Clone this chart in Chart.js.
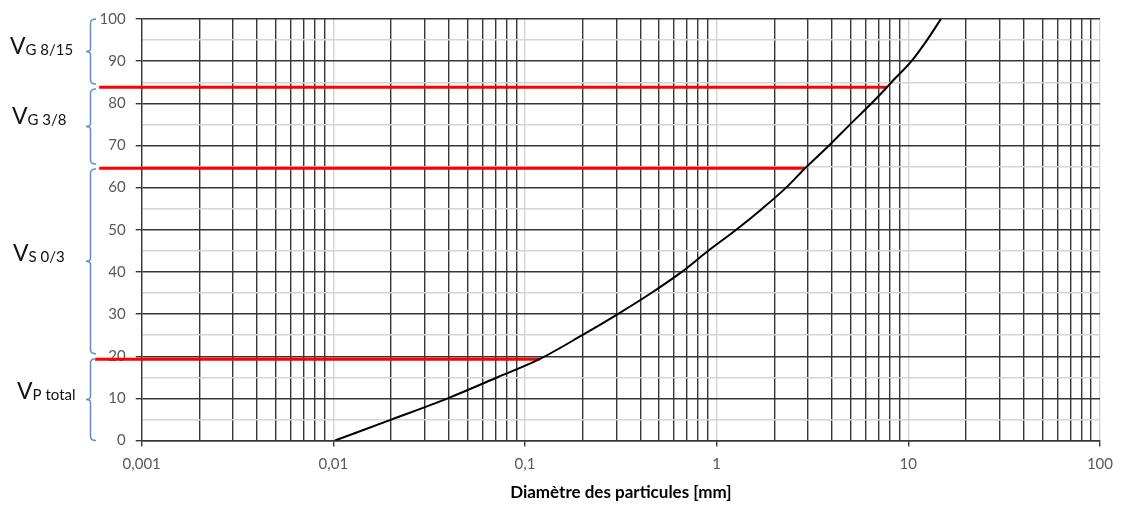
<!DOCTYPE html>
<html>
<head>
<meta charset="utf-8">
<script src="https://cdn.jsdelivr.net/npm/chart.js@4.4.1/dist/chart.umd.min.js"></script>
<style>
  html, body { margin: 0; padding: 0; background: #ffffff; }
  #wrap { width: 1122px; height: 506px; }
</style>
</head>
<body>
<div id="wrap"><canvas id="c" width="1122" height="506"></canvas></div>
<script>
// ---- data ----
const sieveSizes = [0.0102, 0.0202, 0.0395, 0.0719, 0.119, 0.199, 0.305, 0.456, 0.658, 0.904, 1.265, 1.728, 2.305, 2.895, 3.86, 4.97, 6.43, 7.74, 8.17, 10.39, 12.52, 14.8];
const passing    = [0, 5, 10, 15, 19.3, 25, 30, 35, 40, 45, 50, 55, 60, 64.6, 70, 75, 80, 83.8, 85, 90, 95, 100];

const cutValues     = [83.8, 64.6, 19.3];
const cutStartSizes = [0.0006, 0.0006, 0.00057];
const cutEndSizes   = [7.74, 2.88, 0.119];

const decades      = [0.001, 0.01, 0.1, 1, 10, 100];
const decadeLabels = ['0,001', '0,01', '0,1', '1', '10', '100'];
const minorMultipliers = [2, 3, 4, 5, 6, 7, 8, 9];

const yTickValues = [0, 5, 10, 15, 20, 25, 30, 35, 40, 45, 50, 55, 60, 65, 70, 75, 80, 85, 90, 95, 100];

const fractionRanges = [[100, 84], [84, 65], [65, 20], [20, 0]];
const fractionMain   = ['V', 'V', 'V', 'V'];
const fractionSub    = ['G 8/15', 'G 3/8', 'S 0/3', 'P total'];

const xTitle = 'Diamètre des particules [mm]';

// ---- build ----
const xGridValues = [];
decades.forEach((d, i) => {
  xGridValues.push(d);
  if (i < decades.length - 1) minorMultipliers.forEach(m => xGridValues.push(Number((d * m).toPrecision(3))));
});
function decadeIndex(v) {
  return decades.findIndex(d => Math.abs(v - d) / d < 1e-6);
}

const DARK = '#363636';
const LIGHT = '#d4d4d4';
const LABEL = '#595959';

const curve = sieveSizes.map((x, i) => ({ x, y: passing[i] }));
const cutDatasets = cutValues.map((v, i) => ({
  data: [{ x: cutStartSizes[i], y: v }, { x: cutEndSizes[i], y: v }],
  borderColor: '#ff0000',
  borderWidth: 3,
  pointRadius: 0,
  clip: false,
  tension: 0
}));

const sidePlugin = {
  id: 'side',
  afterDraw(chart) {
    const ctx = chart.ctx;
    const ys = chart.scales.y;
    ctx.save();
    fractionRanges.forEach((r, i) => {
      const top = ys.getPixelForValue(r[0]) + (i === 0 ? 0 : 2.5);
      const bot = ys.getPixelForValue(r[1]) - (i === fractionRanges.length - 1 ? 0 : 2.5);
      const mid = (top + bot) / 2;
      const bx = 90.5, tipX = 96, nubX = 86;
      ctx.strokeStyle = '#5b8fd3';
      ctx.lineWidth = 1.5;
      ctx.beginPath();
      ctx.moveTo(tipX, top);
      ctx.quadraticCurveTo(bx, top, bx, top + 4);
      ctx.lineTo(bx, mid - 3);
      ctx.quadraticCurveTo(bx, mid, nubX, mid);
      ctx.quadraticCurveTo(bx, mid, bx, mid + 3);
      ctx.lineTo(bx, bot - 4);
      ctx.quadraticCurveTo(bx, bot, tipX, bot);
      ctx.stroke();

      // label
      const lx = [10, 12, 13, 17][i];
      const base = mid + [3, -2, 0, -1][i];
      ctx.fillStyle = '#111111';
      ctx.textBaseline = 'alphabetic';
      ctx.textAlign = 'left';
      ctx.font = '23px Lato';
      ctx.fillText(fractionMain[i], lx, base);
      const w = ctx.measureText(fractionMain[i]).width;
      ctx.font = '15px Lato';
      ctx.fillText(fractionSub[i], lx + w, base + 1);
    });
    ctx.restore();
  }
};

new Chart(document.getElementById('c'), {
  type: 'line',
  data: {
    datasets: [
      {
        data: curve,
        borderColor: '#000000',
        borderWidth: 2,
        pointRadius: 0,
        cubicInterpolationMode: 'monotone'
      },
      ...cutDatasets
    ]
  },
  options: {
    responsive: false,
    animation: false,
    devicePixelRatio: 1,
    layout: { padding: { left: 0, right: 21, top: 15.5, bottom: 0 } },
    plugins: { legend: { display: false }, tooltip: { enabled: false } },
    scales: {
      x: {
        type: 'logarithmic',
        min: 0.001,
        max: 100,
        afterBuildTicks: s => { s.ticks = xGridValues.map(v => ({ value: v, major: decadeIndex(v) >= 0 })); },
        afterFit: s => { s.height = 65.5; },
        ticks: {
          autoSkip: false,
          maxRotation: 0,
          padding: 9,
          color: LABEL,
          font: { family: 'Lato', size: 15 },
          callback: v => { const k = decadeIndex(v); return k >= 0 ? decadeLabels[k] : ''; }
        },
        grid: {
          color: c => (c.tick && decadeIndex(c.tick.value) >= 0) ? LIGHT : DARK,
          tickColor: c => (c.tick && decadeIndex(c.tick.value) >= 0) ? DARK : 'rgba(0,0,0,0)',
          lineWidth: 1.4,
          tickLength: 6
        },
        border: { display: true, color: DARK, width: 1.4 },
        title: {
          display: true,
          text: xTitle,
          color: '#000000',
          font: { family: 'Lato', size: 17, weight: 'bold' },
          padding: { top: 0, bottom: 3 }
        }
      },
      y: {
        type: 'linear',
        min: 0,
        max: 100,
        afterBuildTicks: s => { s.ticks = yTickValues.map(v => ({ value: v })); },
        afterFit: s => { s.width = 141.7; },
        ticks: {
          autoSkip: false,
          padding: 10,
          color: LABEL,
          font: { family: 'Lato', size: 15 },
          callback: v => (v % 10 === 0 ? String(v) : '')
        },
        grid: {
          color: c => (c.tick && c.tick.value % 10 === 0) ? DARK : LIGHT,
          tickColor: c => (c.tick && c.tick.value % 10 === 0) ? DARK : 'rgba(0,0,0,0)',
          lineWidth: 1.4,
          tickLength: 6
        },
        border: { display: true, color: DARK, width: 1.4 }
      }
    }
  },
  plugins: [sidePlugin]
});
</script>
</body>
</html>
